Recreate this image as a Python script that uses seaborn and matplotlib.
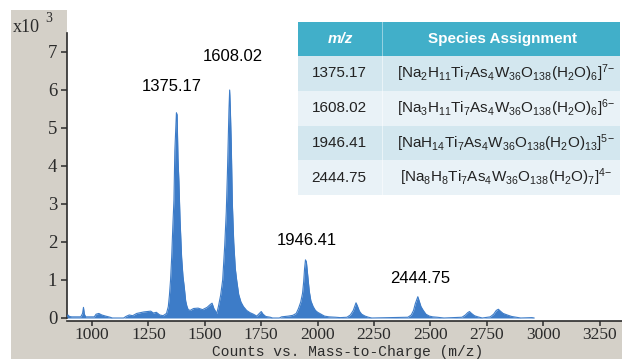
import matplotlib
matplotlib.use("Agg")
import matplotlib.pyplot as plt
from matplotlib.patches import Rectangle
import seaborn as sns
import pandas as pd

# ---------------- data ----------------
mz = [889, 893, 900, 910, 950, 958, 962, 966, 972, 1010, 1018, 1030, 1043, 1060, 1080, 1090,
      1140, 1150, 1165, 1180, 1198, 1215, 1230, 1245, 1260, 1272, 1285, 1300, 1315, 1330,
      1338, 1343, 1348, 1353, 1358, 1363, 1367, 1371, 1374, 1377, 1381, 1385, 1390, 1397,
      1403, 1409, 1415, 1420, 1426, 1435, 1450, 1470, 1490, 1510, 1525, 1532, 1540, 1553,
      1560, 1570, 1579, 1588, 1595, 1600, 1604, 1607, 1610, 1613, 1617, 1622, 1628, 1635,
      1641, 1650, 1660, 1671, 1685, 1700, 1715, 1730, 1742, 1750, 1758, 1770, 1790, 1800,
      1830, 1840, 1870, 1890, 1905, 1915, 1925, 1933, 1938, 1942, 1946, 1950, 1954, 1958,
      1963, 1970, 1980, 1990, 2000, 2015, 2030, 2050, 2080, 2100, 2130, 2145, 2158, 2165,
      2170, 2176, 2185, 2195, 2210, 2225, 2240, 2400, 2415, 2425, 2433, 2440, 2444, 2450,
      2458, 2468, 2480, 2495, 2510, 2530, 2560, 2640, 2655, 2665, 2673, 2682, 2695, 2710,
      2730, 2765, 2780, 2792, 2801, 2810, 2822, 2840, 2860, 2880, 2900, 2950, 2960]
counts_k = [0.02, 0.08, 0.04, 0.03, 0.03, 0.12, 0.28, 0.10, 0.03, 0.03, 0.10, 0.12, 0.08, 0.05, 0.02, 0.0,
            0.0, 0.04, 0.08, 0.06, 0.12, 0.14, 0.16, 0.17, 0.18, 0.13, 0.15, 0.08, 0.06, 0.12,
            0.30, 0.60, 1.00, 1.60, 2.40, 3.10, 4.40, 5.00, 5.40, 5.35, 4.20, 3.60, 2.60, 1.60,
            1.10, 0.80, 0.45, 0.32, 0.22, 0.20, 0.25, 0.26, 0.22, 0.28, 0.36, 0.39, 0.25, 0.12,
            0.30, 0.60, 1.00, 1.90, 2.80, 3.80, 4.80, 5.50, 6.00, 5.50, 4.60, 3.00, 2.00, 1.30,
            1.00, 0.62, 0.42, 0.30, 0.20, 0.14, 0.10, 0.05, 0.12, 0.17, 0.10, 0.04, 0.02, 0.0,
            0.0, 0.03, 0.05, 0.07, 0.12, 0.25, 0.42, 0.65, 0.95, 1.30, 1.53, 1.48, 1.25, 1.00,
            0.70, 0.45, 0.30, 0.20, 0.15, 0.10, 0.05, 0.03, 0.02, 0.01, 0.02, 0.08, 0.20, 0.32,
            0.40, 0.32, 0.18, 0.10, 0.05, 0.02, 0.0, 0.02, 0.08, 0.20, 0.38, 0.50, 0.56, 0.45,
            0.30, 0.20, 0.10, 0.05, 0.03, 0.02, 0.0, 0.02, 0.08, 0.14, 0.17, 0.12, 0.06, 0.03,
            0.0, 0.03, 0.10, 0.20, 0.23, 0.18, 0.12, 0.08, 0.04, 0.02, 0.0, 0.01, 0.0]

peak_labels = ["1375.17", "1608.02", "1946.41", "2444.75"]
label_pos_x = [1353, 1625, 1952, 2454]
label_pos_y = [6.08, 6.87, 2.05, 1.03]

table_mz = ["1375.17", "1608.02", "1946.41", "2444.75"]
table_species = [
    r"$\mathrm{[Na_2H_{11}Ti_7As_4W_{36}O_{138}(H_2O)_6]^{7\!-}}$",
    r"$\mathrm{[Na_3H_{11}Ti_7As_4W_{36}O_{138}(H_2O)_6]^{6\!-}}$",
    r"$\mathrm{[NaH_{14}Ti_7As_4W_{36}O_{138}(H_2O)_{13}]^{5\!-}}$",
    r"$\mathrm{[Na_8H_8Ti_7As_4W_{36}O_{138}(H_2O)_7]^{4\!-}}$",
]
table_header = ["m/z", "Species Assignment"]
yticks = [0, 1, 2, 3, 4, 5, 6, 7]
xticks = [1000, 1250, 1500, 1750, 2000, 2250, 2500, 2750, 3000, 3250]

# ---------------- style ----------------
sns.set_style("white")
plt.rcParams["font.family"] = ["Liberation Sans", "DejaVu Sans"]
plt.rcParams["mathtext.fontset"] = "custom"
plt.rcParams["mathtext.rm"] = "Liberation Sans"
plt.rcParams["mathtext.it"] = "Liberation Sans:italic"
plt.rcParams["mathtext.bf"] = "Liberation Sans:bold"

W, H = 622, 359
fig = plt.figure(figsize=(W / 100, H / 100), dpi=100)
fig.patch.set_facecolor("white")

def fx(px):
    return px / W

def fy(py):
    return 1 - py / H

GRAY = "#d4d0c8"
BLUE = "#3d7cc8"
INK = "#2b2b2b"

fig.patches.append(Rectangle((fx(11), 0), 1 - fx(11), fy(10), transform=fig.transFigure,
                             facecolor=GRAY, edgecolor="none", zorder=-5))

AX_BOTTOM = 321
ax = fig.add_axes([fx(67), fy(AX_BOTTOM), 1 - fx(67), AX_BOTTOM / H])
ax.set_facecolor("white")

df = pd.DataFrame({"mz": mz, "counts": counts_k})
ax.fill_between(df["mz"], 0, df["counts"], color=BLUE, linewidth=0, zorder=2)
sns.lineplot(data=df, x="mz", y="counts", ax=ax, color=BLUE, linewidth=0.8,
             estimator=None, sort=False, zorder=3)

ax.set_xlim(889, 3349)
ax.set_ylim(-(AX_BOTTOM - 318) / 38, 318 / 38)
ax.set_xticks(xticks)
ax.set_yticks(yticks)
ax.set_xlabel("")
ax.set_ylabel("")
for s in ["top", "right"]:
    ax.spines[s].set_visible(False)
ax.spines["left"].set_bounds(0, 7.5)
for s in ["left", "bottom"]:
    ax.spines[s].set_color(INK)
    ax.spines[s].set_linewidth(1.2)
ax.tick_params(axis="both", direction="out", length=4, width=1.1, color=INK,
               labelcolor=INK, labelsize=13.5, left=True, bottom=True)
ax.tick_params(axis="x", pad=0.5, length=3.5, labelsize=12.5)
ax.tick_params(axis="y", pad=3)
for lab in ax.get_xticklabels() + ax.get_yticklabels():
    lab.set_family("Liberation Serif")

for t, x, y in zip(peak_labels, label_pos_x, label_pos_y):
    ax.text(x, y, t, ha="center", va="center", fontsize=12, color="black",
            family="Liberation Sans", zorder=4)

# x10^3 label
fig.text(fx(13), fy(27), "x10", ha="left", va="center", fontsize=13,
         family="Liberation Serif", color=INK)
fig.text(fx(45), fy(19), "3", ha="left", va="center", fontsize=10,
         family="Liberation Serif", color=INK)

# x-axis title
fig.text(fx(348), fy(359), "Counts vs. Mass-to-Charge (m/z)", ha="center", va="bottom",
         fontsize=10.5, family="Liberation Mono", color=INK)

# ---------------- table ----------------
tx0, tx1, tdiv = 298, 620, 382
ty0, thead = 22, 56
row_h = (195 - thead) / 4
HEAD = "#41afc9"
ROWS = ["#d3e7ef", "#e9f2f7", "#d3e7ef", "#e9f2f7"]

fig.patches.append(Rectangle((fx(tx0), fy(thead)), fx(tx1) - fx(tx0), fy(ty0) - fy(thead),
                             transform=fig.transFigure, facecolor=HEAD, edgecolor="none", zorder=5))
fig.patches.append(Rectangle((fx(tdiv), fy(thead)), fx(1.2), fy(ty0) - fy(thead),
                             transform=fig.transFigure, facecolor="#e8f3f7", edgecolor="none",
                             alpha=0.5, zorder=5.5))
fig.text(fx((tx0 + tdiv) / 2), fy((ty0 + thead) / 2), table_header[0], ha="center", va="center",
         fontsize=11, color="white", weight="bold", style="italic", zorder=6)
fig.text(fx((tdiv + tx1) / 2 + 2), fy((ty0 + thead) / 2), table_header[1], ha="center",
         va="center", fontsize=11, color="white", weight="bold", zorder=6)

for i, (m, sp) in enumerate(zip(table_mz, table_species)):
    top = thead + i * row_h
    fig.patches.append(Rectangle((fx(tx0), fy(top + row_h)), fx(tx1) - fx(tx0),
                                 fy(top) - fy(top + row_h), transform=fig.transFigure,
                                 facecolor=ROWS[i], edgecolor="none", zorder=5))
    fig.patches.append(Rectangle((fx(tdiv), fy(top + row_h)), fx(1.2), fy(top) - fy(top + row_h),
                                 transform=fig.transFigure, facecolor="white", alpha=0.5,
                                 edgecolor="none", zorder=5.5))
    fig.text(fx(339), fy(top + row_h / 2), m, ha="center", va="center", fontsize=11,
             color="#222222", zorder=6)
    fig.text(fx(506), fy(top + row_h / 2), sp, ha="center", va="center", fontsize=11,
             color="#222222", zorder=6)

fig.savefig("out.png", dpi=100)
